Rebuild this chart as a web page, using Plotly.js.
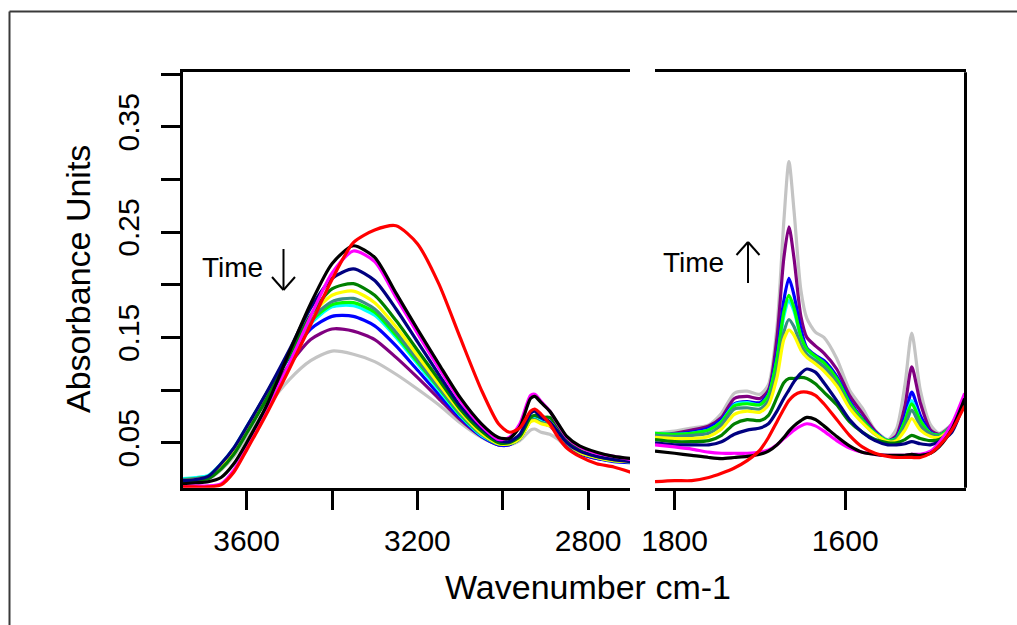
<!DOCTYPE html>
<html>
<head>
<meta charset="utf-8">
<script src="https://cdn.plot.ly/plotly-3.0.1.min.js"></script>
<style>html,body{margin:0;padding:0;background:#fff;}#plot{width:1017px;height:625px;}</style>
</head>
<body>
<div id="plot"></div>
<script>
// Wavenumber grids (cm-1)
const wnLeft = [3750,3720,3690,3660,3630,3600,3550,3500,3450,3400,3350,3300,3250,3200,3150,3100,3050,3010,2985,2960,2935,2925,2910,2890,2870,2850,2820,2780,2740,2700];
const wnRight = [1823,1800,1780,1760,1745,1730,1715,1700,1690,1680,1672,1666,1660,1652,1645,1635,1625,1610,1595,1580,1565,1550,1540,1530,1522,1512,1500,1490,1475,1460];

// Absorbance, left panel (O-H / C-H region)
const redL     = [0.008,0.008,0.008,0.010,0.022,0.043,0.080,0.120,0.162,0.205,0.240,0.252,0.256,0.239,0.201,0.150,0.100,0.068,0.060,0.064,0.080,0.082,0.077,0.068,0.055,0.045,0.037,0.030,0.027,0.022];
const blackL   = [0.011,0.012,0.013,0.017,0.030,0.050,0.088,0.136,0.182,0.220,0.237,0.226,0.192,0.158,0.125,0.093,0.068,0.055,0.054,0.065,0.092,0.094,0.088,0.080,0.068,0.056,0.047,0.041,0.037,0.035];
const magentaL = [0.009,0.009,0.009,0.011,0.024,0.045,0.083,0.125,0.170,0.211,0.232,0.222,0.188,0.154,0.121,0.090,0.066,0.053,0.055,0.068,0.095,0.096,0.089,0.080,0.067,0.055,0.046,0.040,0.037,0.034];
const navyL    = [0.014,0.015,0.018,0.030,0.045,0.065,0.100,0.138,0.178,0.206,0.215,0.204,0.177,0.146,0.115,0.085,0.064,0.052,0.051,0.058,0.078,0.080,0.074,0.070,0.060,0.050,0.042,0.037,0.034,0.032];
const greenL   = [0.013,0.014,0.016,0.025,0.039,0.059,0.094,0.133,0.171,0.196,0.201,0.190,0.166,0.138,0.110,0.082,0.061,0.050,0.050,0.056,0.074,0.076,0.074,0.074,0.065,0.053,0.043,0.037,0.034,0.033];
const yellowL  = [0.014,0.015,0.017,0.027,0.042,0.062,0.097,0.135,0.170,0.190,0.194,0.183,0.160,0.133,0.106,0.080,0.059,0.049,0.049,0.054,0.070,0.071,0.068,0.066,0.060,0.050,0.041,0.036,0.033,0.032];
const tealL    = [0.015,0.016,0.018,0.029,0.044,0.064,0.099,0.135,0.167,0.184,0.187,0.177,0.155,0.129,0.103,0.078,0.058,0.049,0.049,0.054,0.071,0.072,0.069,0.067,0.060,0.050,0.041,0.036,0.033,0.032];
const limeL    = [0.015,0.016,0.018,0.029,0.044,0.064,0.099,0.134,0.165,0.181,0.183,0.174,0.152,0.127,0.102,0.077,0.058,0.049,0.049,0.054,0.071,0.072,0.069,0.067,0.060,0.050,0.041,0.036,0.033,0.032];
const cyanL    = [0.016,0.017,0.019,0.030,0.045,0.065,0.099,0.133,0.163,0.179,0.180,0.171,0.150,0.125,0.100,0.076,0.057,0.049,0.049,0.054,0.072,0.073,0.070,0.067,0.060,0.050,0.041,0.036,0.033,0.032];
const blueL    = [0.015,0.016,0.018,0.029,0.044,0.064,0.098,0.131,0.158,0.170,0.170,0.161,0.142,0.119,0.096,0.074,0.056,0.048,0.048,0.055,0.074,0.075,0.071,0.067,0.059,0.049,0.040,0.035,0.032,0.031];
const purpleL  = [0.013,0.014,0.016,0.026,0.040,0.060,0.093,0.124,0.148,0.158,0.156,0.148,0.131,0.112,0.092,0.072,0.056,0.048,0.048,0.054,0.071,0.072,0.069,0.066,0.058,0.048,0.040,0.035,0.033,0.032];
const grayL    = [0.012,0.013,0.015,0.024,0.037,0.055,0.085,0.110,0.128,0.137,0.134,0.127,0.115,0.101,0.086,0.069,0.055,0.048,0.048,0.052,0.062,0.063,0.060,0.058,0.053,0.046,0.039,0.035,0.033,0.032];

// Absorbance, right panel (amide region)
const redR     = [0.013,0.014,0.014,0.017,0.021,0.026,0.033,0.043,0.055,0.070,0.082,0.090,0.095,0.098,0.098,0.095,0.087,0.072,0.057,0.046,0.040,0.037,0.036,0.036,0.036,0.036,0.040,0.047,0.062,0.085];
const blackR   = [0.042,0.040,0.038,0.036,0.035,0.036,0.037,0.039,0.042,0.048,0.055,0.061,0.066,0.071,0.074,0.072,0.066,0.056,0.047,0.041,0.039,0.038,0.038,0.038,0.039,0.038,0.040,0.046,0.063,0.092];
const magentaR = [0.048,0.046,0.044,0.041,0.040,0.040,0.040,0.041,0.043,0.048,0.054,0.058,0.062,0.066,0.068,0.066,0.061,0.052,0.045,0.041,0.039,0.038,0.038,0.038,0.039,0.039,0.042,0.050,0.068,0.097];
const navyR    = [0.050,0.048,0.048,0.048,0.051,0.058,0.062,0.064,0.068,0.080,0.092,0.100,0.108,0.116,0.120,0.117,0.107,0.090,0.072,0.060,0.052,0.048,0.048,0.049,0.051,0.049,0.048,0.051,0.060,0.090];
const greenR   = [0.053,0.051,0.051,0.052,0.057,0.068,0.072,0.071,0.076,0.093,0.107,0.111,0.111,0.112,0.111,0.106,0.098,0.086,0.070,0.060,0.053,0.050,0.050,0.053,0.057,0.054,0.052,0.053,0.062,0.090];
const yellowR  = [0.055,0.054,0.054,0.056,0.063,0.077,0.080,0.079,0.086,0.112,0.148,0.157,0.152,0.138,0.131,0.125,0.118,0.104,0.083,0.069,0.058,0.051,0.052,0.062,0.073,0.062,0.056,0.055,0.064,0.090];
const tealR    = [0.057,0.056,0.057,0.059,0.067,0.082,0.083,0.082,0.090,0.118,0.155,0.167,0.160,0.143,0.134,0.128,0.122,0.107,0.085,0.070,0.058,0.051,0.053,0.066,0.081,0.066,0.058,0.056,0.065,0.091];
const limeR    = [0.059,0.058,0.059,0.062,0.070,0.085,0.087,0.086,0.095,0.130,0.174,0.190,0.178,0.151,0.139,0.132,0.126,0.111,0.088,0.072,0.059,0.052,0.054,0.071,0.087,0.071,0.059,0.057,0.066,0.092];
const cyanR    = [0.059,0.058,0.059,0.062,0.070,0.086,0.088,0.086,0.095,0.128,0.170,0.185,0.175,0.150,0.138,0.131,0.125,0.110,0.087,0.071,0.059,0.052,0.054,0.070,0.090,0.071,0.059,0.057,0.066,0.092];
const blueR    = [0.058,0.058,0.060,0.064,0.072,0.087,0.089,0.088,0.097,0.135,0.185,0.206,0.190,0.158,0.140,0.133,0.128,0.113,0.090,0.073,0.060,0.052,0.055,0.075,0.098,0.076,0.060,0.057,0.066,0.092];
const purpleR  = [0.057,0.059,0.062,0.066,0.074,0.092,0.094,0.092,0.100,0.150,0.225,0.255,0.225,0.170,0.150,0.142,0.135,0.120,0.095,0.078,0.061,0.052,0.057,0.085,0.122,0.088,0.062,0.058,0.067,0.093];
const grayR    = [0.059,0.061,0.064,0.067,0.078,0.097,0.099,0.096,0.105,0.160,0.260,0.317,0.270,0.195,0.168,0.155,0.150,0.130,0.100,0.083,0.062,0.053,0.063,0.105,0.154,0.100,0.067,0.059,0.068,0.094];

// Axis ticks
const yTickVals = [0.05,0.10,0.15,0.20,0.25,0.30,0.35,0.40];
const yTickText = ['0.05','','0.15','','0.25','','0.35',''];
const xLeftTickVals = [3600,3400,3200,3000,2800];
const xLeftTickText = ['3600','','3200','','2800'];
const xRightTickVals = [1800,1600];
const xRightTickText = ['1800','1600'];

// Series in drawing order (first drawn at bottom)
const seriesL = [grayL, purpleL, blueL, cyanL, limeL, tealL, yellowL, greenL, navyL, magentaL, blackL, redL];
const seriesR = [grayR, purpleR, blueR, cyanR, limeR, tealR, yellowR, greenR, navyR, magentaR, blackR, redR];
const colors  = ['#C4C4C4','#800080','#0000FF','#00FFFF','#00FF00','#3C8C84','#FFFF00','#008000','#000080','#FF00FF','#000000','#FF0000'];

const W = 1017, H = 625;
const px = v => v / W;
const py = v => 1 - v / H;

const traces = [];
seriesL.forEach((ys, i) => {
  traces.push({x: wnLeft, y: ys, xaxis: 'x', yaxis: 'y', mode: 'lines',
    line: {color: colors[i], width: 3.2, shape: 'spline', smoothing: 0.7}, hoverinfo: 'skip', showlegend: false});
});
seriesR.forEach((ys, i) => {
  traces.push({x: wnRight, y: ys, xaxis: 'x2', yaxis: 'y', mode: 'lines',
    line: {color: colors[i], width: 3.2, shape: 'spline', smoothing: 0.7}, hoverinfo: 'skip', showlegend: false});
});

const tickFont = {family: 'Liberation Sans, Arial, sans-serif', size: 30, color: '#000'};
const axisCommon = {
  showline: true, linecolor: '#000', linewidth: 3, mirror: true,
  ticks: 'outside', ticklen: 19, tickwidth: 3, tickcolor: '#000',
  showgrid: false, zeroline: false, tickfont: tickFont, fixedrange: true
};

const arrowLine = {color: '#000', width: 2};
function seg(x0, y0, x1, y1) {
  return {type: 'line', xref: 'paper', yref: 'paper', x0: px(x0), x1: px(x1), y0: py(y0), y1: py(y1), line: arrowLine};
}

const layout = {
  width: W, height: H,
  margin: {l: 0, r: 0, t: 0, b: 0},
  paper_bgcolor: '#fff', plot_bgcolor: '#fff',
  font: {family: 'Liberation Sans, Arial, sans-serif', color: '#000'},
  xaxis: Object.assign({}, axisCommon, {
    domain: [px(183), px(630)], range: [3749, 2702], anchor: 'y',
    tickmode: 'array', tickvals: xLeftTickVals, ticktext: xLeftTickText, ticklabelstandoff: 5
  }),
  xaxis2: Object.assign({}, axisCommon, {
    domain: [px(655), px(965.5)], range: [1823, 1459], anchor: 'y',
    tickmode: 'array', tickvals: xRightTickVals, ticktext: xRightTickText, ticklabelstandoff: 5
  }),
  yaxis: Object.assign({}, axisCommon, {
    domain: [py(487.7), py(72.3)], range: [0.0073, 0.4017], anchor: 'x', mirror: false,
    tickmode: 'array', tickvals: yTickVals, ticktext: yTickText, tickangle: -90, ticklabelstandoff: 10
  }),
  shapes: [
    {type: 'line', xref: 'paper', yref: 'paper', x0: px(965.5), x1: px(965.5), y0: py(487.7), y1: py(72.3), line: {color: '#000', width: 3}},
    {type: 'line', xref: 'paper', yref: 'paper', x0: px(9.5), x1: 1.01, y0: py(11.5), y1: py(11.5), line: {color: '#3a3a3a', width: 2}},
    {type: 'line', xref: 'paper', yref: 'paper', x0: px(9.5), x1: px(9.5), y0: py(11.5), y1: -0.01, line: {color: '#3a3a3a', width: 2}},
    // down arrow (left panel)
    seg(283.5, 249, 283.5, 290),
    seg(272, 277, 283.5, 290),
    seg(295, 277, 283.5, 290),
    // up arrow (right panel)
    seg(748, 242, 748, 283),
    seg(736.5, 255, 748, 242),
    seg(759.5, 255, 748, 242)
  ],
  annotations: [
    {text: 'Absorbance Units', xref: 'paper', yref: 'paper', x: px(78), y: py(279), textangle: -90,
      showarrow: false, xanchor: 'center', yanchor: 'middle', font: {size: 34, family: 'Liberation Sans, Arial, sans-serif', color: '#000'}},
    {text: 'Wavenumber cm-1', xref: 'paper', yref: 'paper', x: px(588), y: py(587),
      showarrow: false, xanchor: 'center', yanchor: 'middle', font: {size: 34, family: 'Liberation Sans, Arial, sans-serif', color: '#000'}},
    {text: 'Time', xref: 'paper', yref: 'paper', x: px(232.5), y: py(267),
      showarrow: false, xanchor: 'center', yanchor: 'middle', font: {size: 28, family: 'Liberation Sans, Arial, sans-serif', color: '#000'}},
    {text: 'Time', xref: 'paper', yref: 'paper', x: px(693), y: py(262),
      showarrow: false, xanchor: 'center', yanchor: 'middle', font: {size: 28, family: 'Liberation Sans, Arial, sans-serif', color: '#000'}}
  ]
};

Plotly.newPlot('plot', traces, layout, {staticPlot: true, displayModeBar: false});
</script>
</body>
</html>
